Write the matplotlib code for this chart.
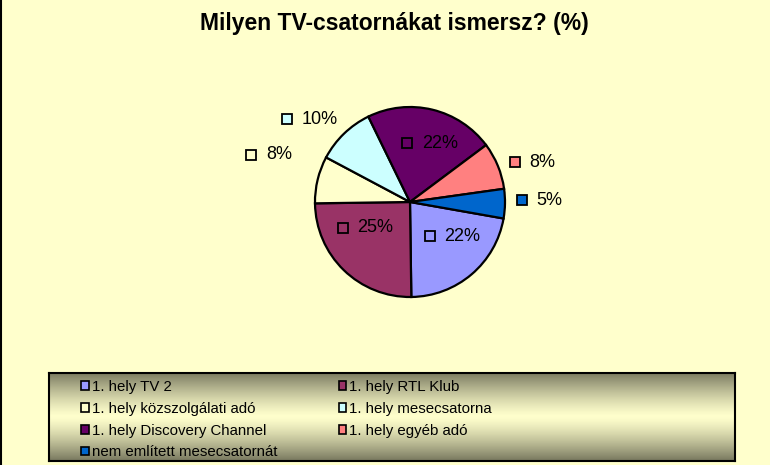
import numpy as np
import matplotlib
matplotlib.use('Agg')
import matplotlib.pyplot as plt
from matplotlib.patches import Patch

plt.rcParams['font.family'] = ['Liberation Sans', 'DejaVu Sans']

# data
categories = ['1. hely TV 2', '1. hely RTL Klub', '1. hely közszolgálati adó',
              '1. hely mesecsatorna', '1. hely Discovery Channel',
              '1. hely egyéb adó', 'nem említett mesecsatornát']
values = [22, 25, 8, 10, 22, 8, 5]
colors = ['#9999FF', '#993366', '#FFFFCC', '#CCFFFF', '#660066', '#FF8080', '#0066CC']
title = 'Milyen TV-csatornákat ismersz? (%)'

# label marker positions, in pie radius units
label_xy = [(0.21, -0.36), (-0.705, -0.27), (-1.67, 0.50), (-1.29, 0.87),
            (-0.03, 0.62), (1.105, 0.42), (1.18, 0.02)]

W, H = 770, 465
bg = '#FFFFCC'
fig = plt.figure(figsize=(W / 100, H / 100), dpi=100, facecolor=bg)

# pie: centre (410, 202) px, radius 95 px
cx, cy, R = 410, 202, 95
ax = fig.add_axes([(cx - 2 * R) / W, (H - cy - 2 * R) / H, 4 * R / W, 4 * R / H])
ax.pie(values, colors=colors, startangle=-10, counterclock=False, radius=1,
       wedgeprops=dict(edgecolor='black', linewidth=1.6))
ax.set_xlim(-2, 2)
ax.set_ylim(-2, 2)
ax.axis('off')

for v, c, (lx, ly) in zip(values, colors, label_xy):
    ax.plot(lx, ly, marker='s', ms=6.5, mfc=c, mec='black', mew=1.3, ls='none')
    ax.annotate(f'{v}%', xy=(lx, ly), xytext=(10.5, 0), textcoords='offset points',
                ha='left', va='center', fontsize=13, color='black')

fig.text(394.5 / W, 1 - 30 / H, title, ha='center', va='baseline',
         fontsize=16.5, fontweight='bold')

# legend box with vertical gradient
lx0, lx1, ly0, ly1 = 49, 735, 373, 461
lax = fig.add_axes([lx0 / W, (H - ly1) / H, (lx1 - lx0) / W, (ly1 - ly0) / H])
dark = np.array([0.47, 0.47, 0.37])
light = np.array([1.0, 1.0, 0.8])
t = np.linspace(-1, 1, 200)[:, None]
w = np.abs(t) ** 1.3
grad = ((1 - w) * light + w * dark)[:, None, :]
lax.imshow(grad, aspect='auto', extent=(0, 1, 0, 1))
lax.set_xlim(0, 1)
lax.set_ylim(0, 1)
lax.set_xticks([])
lax.set_yticks([])
for s in lax.spines.values():
    s.set_linewidth(1.5)
    s.set_color('black')

handles = [Patch(facecolor=c, edgecolor='black', linewidth=1.2) for c in colors]
order = [0, 2, 4, 6, 1, 3, 5]
leg = fig.legend([handles[i] for i in order], [categories[i] for i in order],
                 loc='upper left', bbox_to_anchor=(81 / W, 1 - 380 / H),
                 bbox_transform=fig.transFigure, ncol=2, frameon=False,
                 fontsize=10.8, handlelength=0.5, handleheight=0.5,
                 handletextpad=0.2, columnspacing=4.1, labelspacing=0.52,
                 borderpad=0, borderaxespad=0)

# black line along the left edge
fig.add_artist(plt.Line2D([0.5 / W, 0.5 / W], [0, 1], color='black', lw=1.5,
                          transform=fig.transFigure))

fig.savefig('out.png', dpi=100, facecolor=bg)
